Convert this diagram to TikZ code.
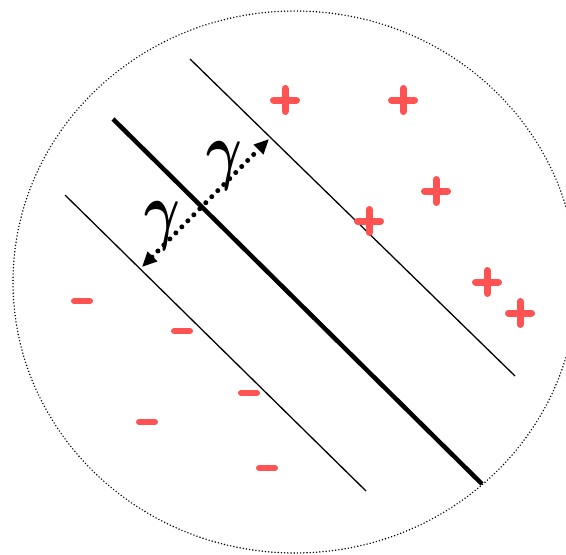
\documentclass[tikz,border=0pt]{standalone}
\usepackage{amsmath}
\usepackage{graphicx}
\usepackage{tikz}
\usetikzlibrary{arrows.meta}
\definecolor{signred}{RGB}{255,82,82}
\newcommand{\gapsym}{\scalebox{2.2}[3.05]{$\boldsymbol{\gamma}$}}

\begin{document}
\begin{tikzpicture}[
    x=1pt, y=-1pt,
    border/.style={line width=1.6pt, line cap=round, dash pattern=on 0pt off 3.2pt},
    margin/.style={line width=1.3pt},
    separator/.style={line width=4.5pt},
    gaparrow/.style={line width=5pt, line cap=round, dash pattern=on 0pt off 8.5pt,
        {Triangle[length=15pt,width=13pt]}-{Triangle[length=15pt,width=13pt]}},
    sign/.style={signred, line cap=round},
    gammalabel/.style={inner sep=0pt, font=\fontsize{25}{25}\selectfont}
]
    \useasboundingbox (0,0) rectangle (566,555);
    \draw[border] (295,282) ellipse[x radius=282, y radius=271];

    % margins and separating line
    \draw[margin] (190,59) -- (515,376);
    \draw[margin] (65,195) -- (366,491);
    \draw[separator] (113,119) -- (482,484);

    % the gap
    \coordinate (gapup) at (269,139);
    \coordinate (gaplow) at (142,267);
    \draw[gaparrow] (gaplow) -- (gapup);
    \node[gammalabel] (gammaup) at (224,166) {\gapsym};
    \node[gammalabel] (gammalow) at (162,226) {\gapsym};

    % positive samples
    \foreach \x/\y in {285/100, 403/100, 436/191, 369/221, 487/282, 520/313}
        \draw[sign, line width=7pt] (\x-11.5,\y) -- (\x+11.5,\y) (\x,\y-11.5) -- (\x,\y+11.5);

    % negative samples
    \foreach \x/\y in {82/301, 182/331, 249/393, 147/422, 267/468}
        \draw[sign, line width=6pt] (\x-8,\y) -- (\x+8,\y);
\end{tikzpicture}
\end{document}
